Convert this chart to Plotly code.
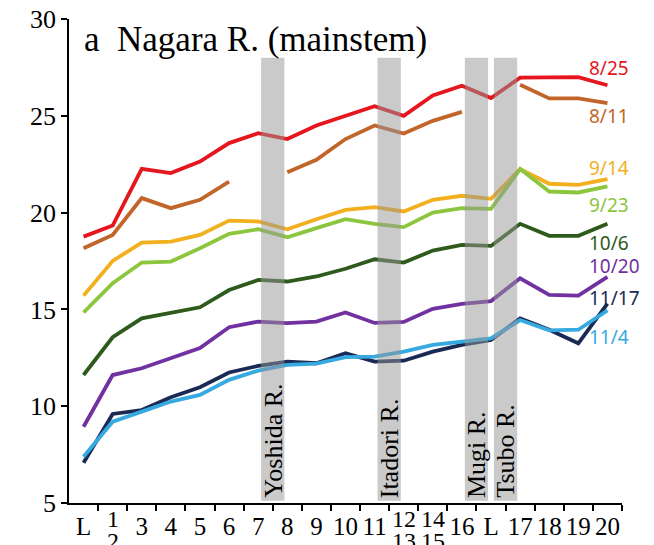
import plotly.graph_objects as go

# ---- data ----
site_labels = ["L", "1\n2", "3", "4", "5", "6", "7", "8", "9", "10", "11",
               "12\n13", "14\n15", "16", "L", "17", "18", "19", "20"]

aug25 = [18.76, 19.33, 22.26, 22.04, 22.64, 23.59, 24.10, 23.80, 24.50, 25.00, 25.49,
         25.00, 26.05, 26.55, 25.92, 26.97, 26.97, 27.00, 26.58]
aug11 = [18.16, 18.85, 20.75, 20.23, 20.66, 21.60, None, 22.09, 22.73, 23.80, 24.50,
         24.08, 24.74, 25.20, None, 26.60, 25.90, 25.90, 25.65]
sep14 = [15.71, 17.50, 18.45, 18.50, 18.85, 19.59, 19.54, 19.14, 19.66, 20.14, 20.28,
         20.06, 20.66, 20.87, 20.71, 22.25, 21.49, 21.43, 21.73]
sep23 = [14.84, 16.35, 17.42, 17.47, 18.16, 18.90, 19.14, 18.73, 19.20, 19.66, 19.42,
         19.25, 20.00, 20.23, 20.19, 22.25, 21.09, 21.04, 21.35]
oct6 = [11.61, 13.56, 14.54, 14.84, 15.11, 16.00, 16.52, 16.44, 16.70, 17.10, 17.59,
        17.42, 18.04, 18.33, 18.28, 19.42, 18.80, 18.80, 19.42]
oct20 = [8.94, 11.61, 11.96, 12.48, 13.00, 14.08, 14.37, 14.29, 14.37, 14.84, 14.30,
         14.35, 15.03, 15.28, 15.43, 16.61, 15.75, 15.71, 16.68]
nov17 = [7.08, 9.60, 9.80, 10.46, 10.98, 11.74, 12.08, 12.30, 12.22, 12.74, 12.30,
         12.35, 12.82, 13.17, 13.42, 14.54, 13.95, 13.25, 15.30]
nov4 = [7.39, 9.20, 9.72, 10.24, 10.58, 11.36, 11.84, 12.13, 12.20, 12.53, 12.56,
        12.82, 13.17, 13.34, 13.50, 14.45, 13.92, 13.95, 14.95]

series_names = ["8/25", "8/11", "9/14", "9/23", "10/6", "10/20", "11/17", "11/4"]
series_values = [aug25, aug11, sep14, sep23, oct6, oct20, nov17, nov4]
series_colors = ["#E5161E", "#C2652B", "#F2B01E", "#8CC63F", "#2E5A1C", "#7131A0",
                 "#1A2A55", "#37A9E1"]
label_y = [27.48, 24.97, 22.29, 20.40, 18.41, 17.22, 15.57, 13.60]

tributaries = ["Yoshida R.", "Itadori R.", "Mugi R.", "Tsubo R."]
trib_pos = [6.5, 10.5, 13.5, 14.5]

y_ticks = [5, 10, 15, 20, 25, 30]

SERIF = "Liberation Serif, Times New Roman, serif"
SANS = "Noto Sans, Open Sans, sans-serif"

x = list(range(len(site_labels)))
fig = go.Figure()
for name, vals, col in zip(series_names, series_values, series_colors):
    fig.add_trace(go.Scatter(x=x, y=vals, mode="lines", name=name,
                             line=dict(color=col, width=3.8), connectgaps=False))

# tributary bands
for pos in trib_pos:
    fig.add_shape(type="rect", xref="x", yref="y", x0=pos - 0.4, x1=pos + 0.4,
                  y0=5.12, y1=28.0, fillcolor="rgb(150,150,150)", opacity=0.5,
                  line=dict(width=0), layer="above")
for name, pos in zip(tributaries, trib_pos):
    fig.add_annotation(x=pos, y=5.15, xref="x", yref="y", text=name, textangle=-90,
                       showarrow=False, xanchor="center", yanchor="bottom",
                       font=dict(family=SERIF, size=26, color="black"))

# series labels
for name, ly, col in zip(series_names, label_y, series_colors):
    fig.add_annotation(x=17.3, y=ly, xref="x", yref="y", text=name, showarrow=False,
                       xanchor="left", yanchor="middle",
                       font=dict(family=SANS, size=19, color=col))

# x tick labels: single-line via axis, stacked ones via annotations
tick_text = [s if "\n" not in s else "" for s in site_labels]
for i, s in enumerate(site_labels):
    if "\n" in s:
        top, bot = s.split("\n")
        fig.add_annotation(x=i, y=-0.033, xref="x", yref="paper", text=top,
                           showarrow=False, xanchor="center", yanchor="middle",
                           font=dict(family=SERIF, size=24, color="black"))
        fig.add_annotation(x=i, y=-0.078, xref="x", yref="paper", text=bot,
                           showarrow=False, xanchor="center", yanchor="middle",
                           font=dict(family=SERIF, size=24, color="black"))

# title
fig.add_annotation(x=0.023, y=0.957, xref="paper", yref="paper",
                   text="a  Nagara R. (mainstem)", showarrow=False,
                   xanchor="left", yanchor="middle",
                   font=dict(family=SERIF, size=35, color="black"))

# the page body adds an 8px offset, so the figure is sized to fit the window
fig.update_layout(
    width=646, height=537,
    margin=dict(l=61, r=32, t=11, b=42, autoexpand=False),
    plot_bgcolor="white", paper_bgcolor="white",
    showlegend=False,
    xaxis=dict(range=[-0.5, 18.5], tickmode="array", tickvals=x, ticktext=tick_text,
               ticks="", showline=True, linecolor="black", linewidth=1.5,
               showgrid=False, zeroline=False, automargin=False,
               tickfont=dict(family=SERIF, size=25, color="black"),
               minor=dict(tickmode="array", tickvals=[i + 0.5 for i in range(19)],
                          ticks="outside", ticklen=6, tickcolor="black", tickwidth=1.5)),
    yaxis=dict(range=[5, 30], tickmode="array", tickvals=y_ticks,
               ticks="outside", ticklen=6, tickcolor="black", tickwidth=1.5,
               showline=True, linecolor="black", linewidth=1.5,
               showgrid=False, zeroline=False, automargin=False,
               ticklabeloverflow="allow",
               tickfont=dict(family=SERIF, size=26, color="black")),
)

fig.write_html("out.html")
